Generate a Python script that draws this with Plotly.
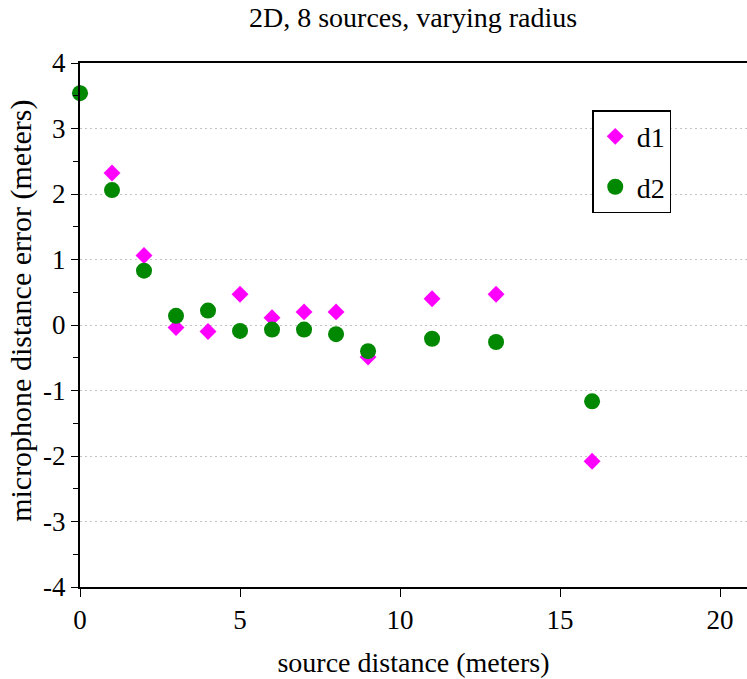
import plotly.graph_objects as go

x_vals = [0, 1, 2, 3, 4, 5, 6, 7, 8, 9, 11, 13, 16]
d1 = [3.54, 2.32, 1.06, -0.04, -0.10, 0.47, 0.11, 0.20, 0.20, -0.49, 0.40, 0.47, -2.08]
d2 = [3.54, 2.06, 0.83, 0.14, 0.22, -0.09, -0.07, -0.07, -0.14, -0.40, -0.21, -0.26, -1.165]

FONT = "Liberation Serif"

fig = go.Figure()
fig.add_trace(go.Scatter(x=x_vals, y=d1, mode="markers", name="d1", legendgroup="a",
                         cliponaxis=False,
                         marker=dict(symbol="diamond", size=13, color="#ff00ff")))
fig.add_trace(go.Scatter(x=x_vals, y=d2, mode="markers", name="d2", legendgroup="b",
                         cliponaxis=False,
                         marker=dict(symbol="circle", size=16, color="#008800")))

fig.update_layout(
    width=747, height=679,
    margin=dict(l=80, r=0, t=63, b=92),
    paper_bgcolor="white", plot_bgcolor="white",
    font=dict(family=FONT, size=27, color="black"),
    title=dict(text="2D, 8 sources, varying radius", x=0.553, xanchor="center",
               y=0.974, yanchor="middle", font=dict(size=28)),
    showlegend=True,
    legend=dict(x=0.768, y=0.91, xanchor="left", yanchor="top",
                bordercolor="black", borderwidth=1.5, bgcolor="white",
                tracegroupgap=11, traceorder="grouped", itemwidth=33,
                font=dict(size=28)),
    xaxis=dict(range=[0, 20.84], tickvals=[0, 5, 10, 15, 20], showgrid=False, zeroline=False,
               showline=True, linecolor="black", linewidth=2, mirror=True,
               ticks="outside", ticklen=8, tickwidth=1, tickcolor="black",
               title=dict(text="source distance (meters)", standoff=18, font=dict(size=28)),
               tickfont=dict(size=27)),
    yaxis=dict(range=[-4, 4], tickvals=[-4, -3, -2, -1, 0, 1, 2, 3, 4],
               ticktext=["-4", "-3", "-2", "-1", "0", "1", "2", "3", "4"],
               showgrid=True, gridcolor="#c4c4c4", griddash="2px,3px", gridwidth=1,
               zeroline=False, showline=True, linecolor="black", linewidth=2, mirror=False,
               ticks="outside", ticklen=7, tickwidth=1, tickcolor="black",
               minor=dict(dtick=0.5, tick0=0, ticks="outside", ticklen=5, tickcolor="black", showgrid=False),
               tickfont=dict(size=27)),
    annotations=[dict(text="microphone distance error (meters)", textangle=-90,
                      xref="paper", yref="paper", x=0, y=0.527, xanchor="center", yanchor="middle",
                      xshift=-59, showarrow=False, font=dict(size=30))],
)

fig.write_html("out.html")
